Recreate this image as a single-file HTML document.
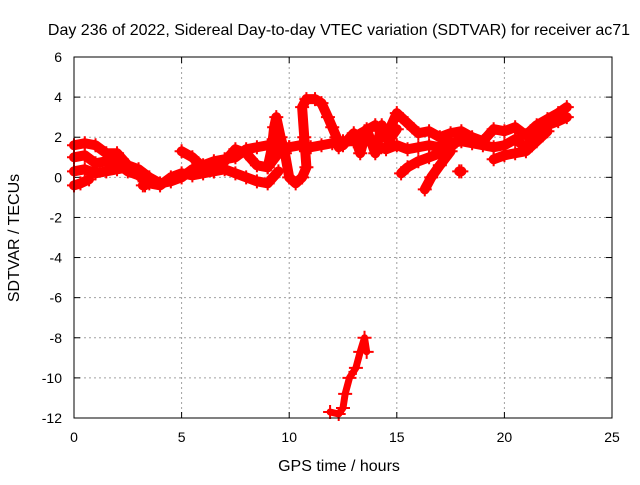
<!DOCTYPE html>
<html><head><meta charset="utf-8"><style>
body{margin:0;background:#fff}
svg text{font-family:"Liberation Sans",sans-serif;font-size:14px;fill:#000}
svg text.big{font-size:16px}
</style></head><body>
<svg id="c" width="640" height="480" xmlns="http://www.w3.org/2000/svg"></svg>
<script>
const xTicks=[0,5,10,15,20,25];
const yTicks=[-12,-10,-8,-6,-4,-2,0,2,4,6];
const tracks=[
[[0,1.6],[0.5,1.7],[1,1.6],[1.5,1.2],[2,1.2],[2.5,0.6],[3,0.4],[3.5,0],[4,-0.3],[4.5,-0.2],[5,0],[5.5,0.4],[6,0.6],[6.5,0.8],[7,0.9],[7.5,1.0],[8,1.4],[8.5,1.5],[9,1.6],[9.5,1.5],[10,1.5],[10.5,1.6],[11,1.5],[11.5,1.6],[12,1.7],[12.5,1.8],[13,1.8],[13.5,2.0],[14,1.6],[14.5,1.4],[15,1.6],[15.5,1.4],[16,1.5],[16.5,1.6],[17,1.5],[17.5,1.7],[18,1.8],[18.5,1.7],[19,1.6],[19.5,1.5],[20,1.6],[20.5,1.9],[21,1.5],[21.5,2.2],[22,2.6],[22.5,2.8],[22.9,3.0]],
[[0,1.0],[0.5,1.1],[1,0.7],[1.5,0.8],[2,0.7],[2.5,0.3],[3,0.1],[3.5,-0.3],[4,-0.4],[4.5,0],[5,0.2],[5.5,0.1],[6,0.2],[6.5,0.3],[7,0.4],[7.5,0.2],[8,0],[8.5,-0.2],[9,-0.3],[9.5,0.3]],
[[0,0.3],[0.5,0.4],[1,0.2],[1.5,0.3],[2,0.4],[2.5,0.5]],
[[0,-0.4],[0.3,-0.3],[0.7,-0.1]],
[[9,0.5],[9.2,1.5],[9.3,2.5],[9.4,3.0],[9.6,2.0],[9.8,1.2],[10,0],[10.3,-0.3],[10.6,0],[10.8,0.5],[10.7,2],[10.6,3.5],[10.8,3.9],[11.2,3.9],[11.5,3.7],[11.8,3],[12,2.5],[12.2,2],[12.3,1.5]],
[[5,1.3],[5.5,1.0],[6,0.5],[6.5,0.3],[7,0.8],[7.5,1.4],[8,1.2],[8.5,0.6],[9,0.5],[9.5,1.2],[10,1.5]],
[[12.5,1.6],[13,2.2],[13.3,1.2],[13.6,2.4],[14,1.2],[14.3,2.6],[14.6,1.8],[15,2.4]],
[[15.2,0.2],[15.5,0.5],[16,0.8],[16.5,1.0],[17,1.2],[17.5,1.5],[18,2.0]],
[[16.3,-0.6],[16.6,0],[17,0.6],[17.5,1.3]],
[[19.5,0.9],[20,1.1],[20.5,1.2],[21,1.3],[21.5,1.8],[22,2.3]],
[[13,2.0],[13.5,2.3],[14,2.6],[14.5,2.0],[15,3.2],[15.5,2.7],[16,2.2],[16.5,2.3],[17,2.0],[17.5,2.2],[18,2.3],[18.5,2.0],[19,1.8],[19.5,2.4],[20,2.3],[20.5,2.5],[21,2.1],[21.5,2.6],[22,2.9],[22.5,3.2],[22.9,3.5]],
[[17.9,0.3],[18,0.3]],
[[3.2,-0.4],[3.3,-0.4]],
[[11.9,-11.7],[12.3,-11.8],[12.5,-11.5],[12.6,-10.8],[12.8,-10],[13.1,-9.5],[13.3,-8.7],[13.5,-8.0],[13.6,-8.7]]
];
const L=74,R=612,T=57,B=418,xmin=0,xmax=25,ymin=-12,ymax=6;
const X=v=>L+(v-xmin)/(xmax-xmin)*(R-L);
const Y=v=>B-(v-ymin)/(ymax-ymin)*(B-T);
const svg=document.getElementById('c');
const NS='http://www.w3.org/2000/svg';
function mk(t,a,p){const e=document.createElementNS(NS,t);for(const k in a)e.setAttribute(k,a[k]);(p||svg).appendChild(e);return e;}
xTicks.forEach(v=>{
 if(v>xmin&&v<xmax){const g=mk('line',{x1:X(v),x2:X(v),y1:T,y2:B,stroke:'#a0a0a0','stroke-dasharray':'2,3'});
 
 }
 const t=mk('text',{x:X(v),y:B+24,'text-anchor':'middle'});t.textContent=v;
 
 
 mk('line',{x1:X(v),x2:X(v),y1:B,y2:B-6,stroke:'#000'});
 mk('line',{x1:X(v),x2:X(v),y1:T,y2:T+6,stroke:'#000'});
});
yTicks.forEach(v=>{
 if(v>ymin&&v<ymax){const g=mk('line',{x1:L,x2:R,y1:Y(v),y2:Y(v),stroke:'#a0a0a0','stroke-dasharray':'2,3'});
 
 }
 const t=mk('text',{x:L-12,y:Y(v)+5,'text-anchor':'end'});t.textContent=v;
 
 
 mk('line',{x1:L,x2:L+6,y1:Y(v),y2:Y(v),stroke:'#000'});
 mk('line',{x1:R,x2:R-6,y1:Y(v),y2:Y(v),stroke:'#000'});
});
const grp=mk('g',{});


tracks.forEach(tr=>{
 const last=tr[tr.length-1];
 const neg=last[1]<-5;
 const pl=mk('polyline',{points:tr.map(p=>X(p[0])+','+Y(p[1])).join(' '),fill:'none',stroke:'#f00','stroke-width':neg?7:10,'stroke-linejoin':'round','stroke-linecap':'round'},grp);
 
 
 tr.forEach(p=>{const x=X(p[0]),y=Y(p[1]);
  const m=mk('path',{d:`M${x-7},${y}H${x+7}M${x},${y-7}V${y+7}`,stroke:'#f00','stroke-width':2},grp);
  
  });
});
const fr=mk('rect',{x:L,y:T,width:R-L,height:B-T,fill:'none',stroke:'#000'});


const ti=mk('text',{x:339,y:35,'text-anchor':'middle','class':'big'});ti.textContent='Day 236 of 2022, Sidereal Day-to-day VTEC variation (SDTVAR) for receiver ac71';


const xl=mk('text',{x:339,y:471,'text-anchor':'middle','class':'big'});xl.textContent='GPS time / hours';


const yl=mk('text',{x:0,y:0,'text-anchor':'middle','class':'big',transform:'translate(19,238) rotate(-90)'});yl.textContent='SDTVAR / TECUs';


</script>
</body></html>
